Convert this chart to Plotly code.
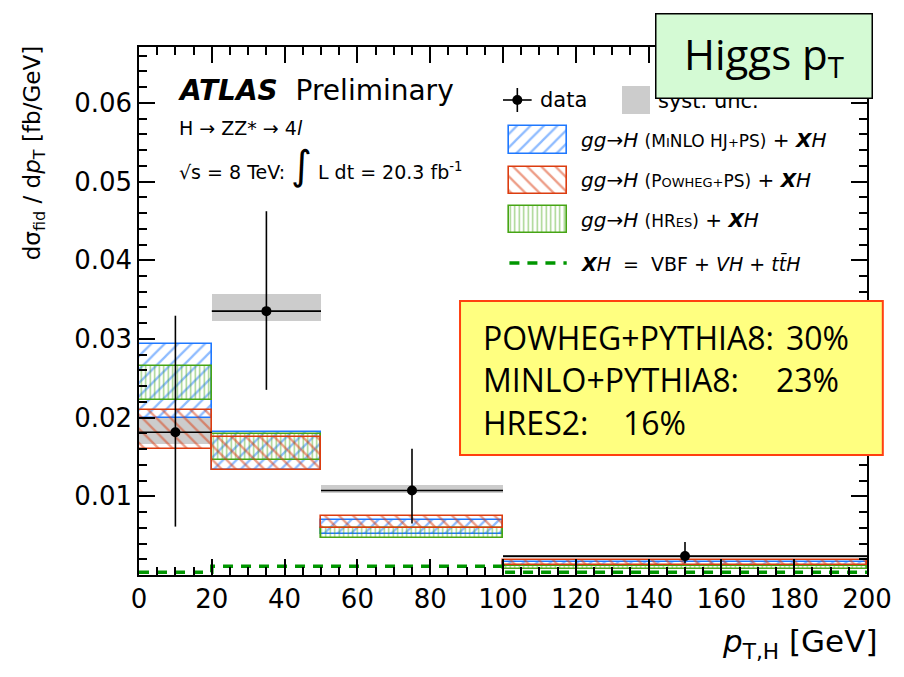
import plotly.graph_objects as go

# ---------------- data ----------------
bin_edges = [0, 20, 50, 100, 200]
data_vals = [0.01815, 0.03353, 0.01074, 0.0024]
data_err_up = [0.0148, 0.0127, 0.0053, 0.0018]
data_err_dn = [0.0120, 0.0100, 0.0042, 0.0009]
syst_lo = [0.0167, 0.0323, 0.01045, 0.0022]
syst_hi = [0.0199, 0.0357, 0.0114, 0.0026]
minlo_lo = [0.0199, 0.0134, 0.00515, 0.0012]
minlo_hi = [0.0293, 0.01815, 0.0070, 0.0017]
powheg_lo = [0.0160, 0.0134, 0.0060, 0.0013]
powheg_hi = [0.0210, 0.0176, 0.0075, 0.0019]
hres_lo = [0.0222, 0.0146, 0.0047, 0.0008]
hres_hi = [0.0265, 0.0179, 0.0060, 0.0011]
xh_vals = [0.00036, 0.00112, 0.00112, 0.00036]
x_tick_vals = [0, 20, 40, 60, 80, 100, 120, 140, 160, 180, 200]
y_tick_vals = [0.01, 0.02, 0.03, 0.04, 0.05, 0.06]
y_tick_text = ["0.01", "0.02", "0.03", "0.04", "0.05", "0.06"]
box_lines = ["POWHEG+PYTHIA8:", "MINLO+PYTHIA8:", "HRES2:"]
box_pcts = ["30%", "23%", "16%"]

centers = [(a + b) / 2 for a, b in zip(bin_edges[:-1], bin_edges[1:])]
widths = [b - a for a, b in zip(bin_edges[:-1], bin_edges[1:])]

BLUE = "rgb(30,120,255)"
RED = "rgb(220,60,15)"
GREEN = "rgb(70,165,20)"
DGREEN = "rgb(0,150,0)"
GRAY = "rgb(204,204,204)"
ROOTF = "DejaVu Sans"
PPTF = "Open Sans"

# figure geometry (pixels)
W, H = 904, 677
L, R, T, B = 139, 876, 47, 575


def px(x):
    return (x - L) / (R - L)


def py(y):
    return (B - y) / (B - T)


fig = go.Figure()

# systematic boxes
fig.add_trace(go.Bar(x=centers, width=widths, base=syst_lo,
                     y=[h - l for h, l in zip(syst_hi, syst_lo)],
                     marker=dict(color=GRAY, line=dict(width=0)),
                     showlegend=False, hoverinfo="skip"))

HATCH = {"/": (9.5, 0.24), "\\": (10, 0.24), "|": (4.5, 0.32)}


def band(lo, hi, color, shape):
    size, sol = HATCH[shape]
    return go.Bar(x=centers, width=widths, base=lo,
                  y=[h - l for h, l in zip(hi, lo)],
                  marker=dict(color="rgba(0,0,0,0)",
                              line=dict(color=color, width=1.6),
                              pattern=dict(shape=shape, size=size, solidity=sol,
                                           fgcolor=color, bgcolor="rgba(0,0,0,0)")),
                  showlegend=False, hoverinfo="skip")


fig.add_trace(band(minlo_lo, minlo_hi, BLUE, "/"))
fig.add_trace(band(hres_lo, hres_hi, GREEN, "|"))
fig.add_trace(band(powheg_lo, powheg_hi, RED, "\\"))

# XH dashed step line
fig.add_trace(go.Scatter(x=bin_edges, y=xh_vals + [xh_vals[-1]], mode="lines",
                         line=dict(color=DGREEN, width=3.5, dash="10px,8px", shape="hv"),
                         showlegend=False, hoverinfo="skip"))

# data
fig.add_trace(go.Scatter(x=centers, y=data_vals, mode="markers",
                         marker=dict(color="black", size=10),
                         error_y=dict(type="data", symmetric=False, array=data_err_up,
                                      arrayminus=data_err_dn, color="black",
                                      thickness=1.6, width=0),
                         error_x=dict(type="data", array=[w / 2 for w in widths],
                                      color="black", thickness=1.6, width=0),
                         showlegend=False, hoverinfo="skip"))

# ---------------- legend swatches on a pixel overlay axis ----------------
sw_x, sw_w = 543, 58
fig.add_trace(go.Bar(x=[642], width=[29], base=[86], y=[28], xaxis="x2", yaxis="y2",
                     marker=dict(color=GRAY, line=dict(width=0)),
                     showlegend=False, hoverinfo="skip"))
for (b0, hgt, col, shp) in [(126, 28, BLUE, "/"), (167, 27, RED, "\\"), (206, 27, GREEN, "|")]:
    size, sol = HATCH[shp]
    fig.add_trace(go.Bar(x=[sw_x], width=[sw_w], base=[b0], y=[hgt], xaxis="x2", yaxis="y2",
                         marker=dict(color="rgba(0,0,0,0)", line=dict(color=col, width=1.6),
                                     pattern=dict(shape=shp, size=size, solidity=sol,
                                                  fgcolor=col, bgcolor="rgba(0,0,0,0)")),
                         showlegend=False, hoverinfo="skip"))
fig.add_trace(go.Scatter(x=[514, 572], y=[263, 263], mode="lines", xaxis="x2", yaxis="y2",
                         line=dict(color=DGREEN, width=3.5, dash="10px,8px"),
                         showlegend=False, hoverinfo="skip"))
fig.add_trace(go.Scatter(x=[522], y=[100], mode="markers", xaxis="x2", yaxis="y2",
                         marker=dict(color="black", size=10),
                         error_x=dict(type="data", array=[14.5], color="black", thickness=1.6, width=0),
                         error_y=dict(type="data", array=[12], color="black", thickness=1.6, width=0),
                         showlegend=False, hoverinfo="skip"))

ann = []


def text(x, y, s, size, font=ROOTF, xanchor="left", yanchor="middle", **kw):
    ann.append(dict(xref="paper", yref="paper", x=px(x), y=py(y), text=s, showarrow=False,
                    xanchor=xanchor, yanchor=yanchor,
                    font=dict(family=font, size=size, color="black"), **kw))


text(176, 90, "<b><i>ATLAS</i></b>\u00a0 Preliminary", 28)
text(177, 128, "H \u2192 ZZ* \u2192 4<i>l</i>", 19)
text(177, 165, "\u221as = 8 TeV: <span style='font-size:40px'>\u222b</span> L dt = 20.3 fb<sup>-1</sup>", 19)

sm = "<span style='font-size:13px'>"
md = "<span style='font-size:17px'>"
text(543, 100, "data", 21)
text(662, 101, "syst. unc.", 21)
text(584, 140, "<i>gg</i>\u2192<i>H</i> " + md + "(M" + sm + "I</span>NLO HJ" + sm + "+</span>PS)</span> + <b><i>X</i></b><i>H</i>", 20)
text(584, 180, "<i>gg</i>\u2192<i>H</i> " + md + "(P" + sm + "OWHEG+</span>PS)</span> + <b><i>X</i></b><i>H</i>", 20)
text(584, 220, "<i>gg</i>\u2192<i>H</i> " + md + "(HR" + sm + "ES</span>)</span> + <b><i>X</i></b><i>H</i>", 20)
text(584, 263, "<b><i>X</i></b><i>H</i>\u00a0 = \u00a0VBF + <i>VH</i> + <i>t</i><i>t\u0304</i><i>H</i>", 19)

# axis titles
ann.append(dict(xref="paper", yref="paper", x=px(33), y=py(44), textangle=-90,
                text="d\u03c3<sub>fid</sub> / d<i>p</i><sub>T</sub> [fb/GeV]", showarrow=False,
                xanchor="center", yanchor="top", font=dict(family=ROOTF, size=23, color="black")))
text(888, 643, "<i>p</i><sub>T,H</sub> [GeV]", 31, xanchor="right")

# yellow box text
for s, yy in zip(box_lines, [337, 379, 422]):
    text(485, yy, s, 32, font=PPTF)
for s, xx, yy in zip(box_pcts, [792, 782, 627], [337, 379, 422]):
    text(xx, yy, s, 32, font=PPTF)

# green title box (annotation so it overlays legend text)
ann.append(dict(xref="paper", yref="paper", x=px(771.5), y=py(56.5), xanchor="center",
                yanchor="middle", text="Higgs p<sub>T</sub>", showarrow=False,
                font=dict(family=PPTF, size=42, color="black"),
                bgcolor="rgb(212,250,212)", bordercolor="black", borderwidth=1.5,
                borderpad=0, width=215, height=83))

shapes = [dict(type="rect", xref="paper", yref="paper", x0=px(464), x1=px(892),
               y0=py(455), y1=py(301), fillcolor="rgb(255,255,128)",
               line=dict(color="rgb(255,64,16)", width=2), layer="above")]

axis_common = dict(ticks="inside", ticklen=16, tickwidth=1.5, tickcolor="black",
                   showline=True, linecolor="black", linewidth=1.5, mirror="ticks",
                   showgrid=False, zeroline=False,
                   tickfont=dict(family=ROOTF, size=26, color="black"))

fig.update_layout(
    width=W, height=H, margin=dict(l=L, r=W - R, t=T, b=H - B),
    paper_bgcolor="white", plot_bgcolor="white", barmode="overlay", bargap=0,
    showlegend=False,
    xaxis=dict(range=[0, 200], tickmode="array", tickvals=x_tick_vals,
               minor=dict(tickmode="linear", tick0=0, dtick=5, ticks="inside", ticklen=8,
                          tickwidth=1.5, tickcolor="black"), **axis_common),
    yaxis=dict(range=[0, 0.0671], tickmode="array", tickvals=y_tick_vals, ticktext=y_tick_text,
               minor=dict(tickmode="linear", tick0=0, dtick=0.002, ticks="inside", ticklen=8,
                          tickwidth=1.5, tickcolor="black"), **axis_common),
    xaxis2=dict(overlaying="x", range=[L, R], visible=False, fixedrange=True),
    yaxis2=dict(overlaying="y", range=[B, T], visible=False, fixedrange=True),
    annotations=ann, shapes=shapes,
)

fig.write_html("out.html")
